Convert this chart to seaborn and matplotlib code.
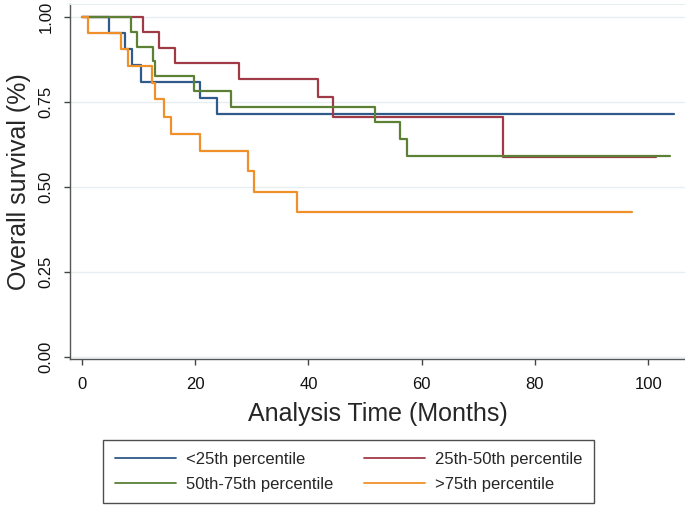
import pandas as pd
import numpy as np
import matplotlib
matplotlib.use('Agg')
import matplotlib.pyplot as plt
import seaborn as sns

# Kaplan-Meier step values (months, survival)
groups = ['<25th percentile', '25th-50th percentile', '50th-75th percentile', '>75th percentile']

months_lt25 = [0, 4.7, 7.6, 8.8, 10.5, 20.8, 23.8, 104.6]
surv_lt25 = [1.0, 0.953, 0.905, 0.858, 0.809, 0.762, 0.714, 0.714]

months_25_50 = [0, 10.7, 13.6, 16.5, 27.7, 41.6, 44.3, 74.3, 101.4]
surv_25_50 = [1.0, 0.954, 0.909, 0.865, 0.816, 0.765, 0.706, 0.588, 0.588]

months_50_75 = [0, 8.7, 9.8, 12.6, 12.9, 19.8, 26.3, 51.7, 56.1, 57.4, 103.9]
surv_50_75 = [1.0, 0.954, 0.911, 0.868, 0.824, 0.781, 0.735, 0.690, 0.639, 0.591, 0.591]

months_gt75 = [0, 1.1, 6.8, 8.2, 12.4, 12.9, 14.5, 15.7, 20.8, 29.3, 30.4, 38.0, 97.2]
surv_gt75 = [1.0, 0.953, 0.905, 0.856, 0.806, 0.757, 0.706, 0.655, 0.605, 0.546, 0.483, 0.424, 0.424]

x_ticks = [0, 20, 40, 60, 80, 100]
y_ticks = [0.0, 0.25, 0.5, 0.75, 1.0]

colors = ['#2f5b8a', '#a03a46', '#5b8036', '#f0902a']

# Build one long table for seaborn
frames = []
for name, t, s in zip(groups,
                      [months_lt25, months_25_50, months_50_75, months_gt75],
                      [surv_lt25, surv_25_50, surv_50_75, surv_gt75]):
    frames.append(pd.DataFrame({'time': t, 'surv': s, 'group': name}))
df = pd.concat(frames, ignore_index=True)

sns.set_style('white')
plt.rcParams['font.family'] = ['Liberation Sans', 'DejaVu Sans']

fig = plt.figure(figsize=(6.85, 5.05), dpi=100)
ax = fig.add_axes([70 / 685, 1 - 359.3 / 505, 615 / 685, (359.3 - 4) / 505])

sns.lineplot(data=df, x='time', y='surv', hue='group', hue_order=groups,
             palette=colors, estimator=None, sort=False,
             drawstyle='steps-post', linewidth=1.6, ax=ax, legend=False)

ax.set_xlim(-2.12, 106.5)
ax.set_ylim(-0.0076, 1.037)
ax.set_xticks(x_ticks)
ax.set_xticklabels([str(v) for v in x_ticks], fontsize=12)
ax.set_yticks(y_ticks)
ax.set_yticklabels([f'{v:.2f}' for v in y_ticks], fontsize=12, rotation=90, va='center')
ax.grid(axis='y', color='#e6eef2', linewidth=1)
ax.grid(axis='x', visible=False)

ax.spines['right'].set_visible(False)
ax.spines['top'].set_color('#e6eef2')
for side in ['left', 'bottom']:
    ax.spines[side].set_color('#555555')
    ax.spines[side].set_linewidth(1.0)
ax.tick_params(axis='both', direction='out', length=4, width=1, color='#444444',
               labelcolor='#111111', bottom=True, left=True)
ax.tick_params(axis='x', pad=9)
ax.tick_params(axis='y', pad=8)

ax.set_xlabel('Analysis Time (Months)', fontsize=18, labelpad=7)
ax.set_ylabel('Overall survival (%)', fontsize=18, labelpad=5)

# legend fills column-wise, so order handles to get rows as in the reference
order = [0, 2, 1, 3]
handles = [plt.Line2D([0], [0], color=colors[i], lw=1.3) for i in order]
labels = [groups[i] for i in order]
leg = fig.legend(handles, labels, ncol=2, fontsize=12,
                 loc='upper left', bbox_to_anchor=(103 / 685, 1 - 440 / 505),
                 frameon=True, fancybox=False, handlelength=3.65,
                 handletextpad=0.6, borderpad=0.7, labelspacing=0.6,
                 columnspacing=1.9, borderaxespad=0)
leg.get_frame().set_edgecolor('#222222')
leg.get_frame().set_linewidth(1.0)

fig.savefig('out.png', dpi=100)
